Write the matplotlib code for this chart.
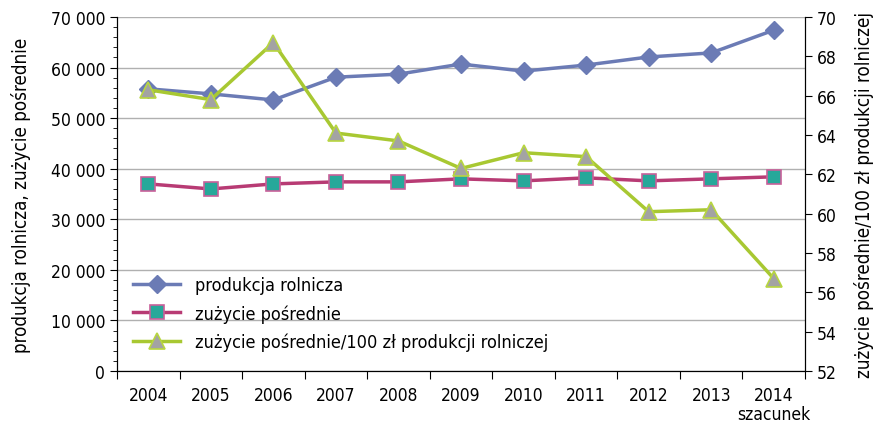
import matplotlib.pyplot as plt
from matplotlib.ticker import FuncFormatter, MultipleLocator

plt.rcParams['font.family'] = ['DejaVu Sans']
plt.rcParams['font.stretch'] = 'condensed'
plt.rcParams['font.size'] = 12

years = ['2004', '2005', '2006', '2007', '2008', '2009', '2010', '2011', '2012', '2013', '2014']
produkcja = [55800, 54800, 53600, 58100, 58700, 60700, 59300, 60500, 62100, 62900, 67400]
zuzycie = [37000, 36000, 37000, 37400, 37400, 38000, 37600, 38200, 37600, 38000, 38400]
wskaznik = [66.3, 65.8, 68.7, 64.1, 63.7, 62.3, 63.1, 62.9, 60.1, 60.2, 56.7]

fig = plt.figure(figsize=(8.83, 4.27), dpi=100)
ax = fig.add_axes([0.1325, 0.1288, 0.7792, 0.829])
ax2 = ax.twinx()

x = range(len(years))
l1, = ax.plot(x, produkcja, color='#6b7bb5', lw=2.5, marker='D', ms=9,
              mfc='#6b7bb5', mec='#6b7bb5', label='produkcja rolnicza', zorder=3)
l2, = ax.plot(x, zuzycie, color='#b83b74', lw=2.5, marker='s', ms=10,
              mfc='#27a89a', mec='#c8609a', mew=1.2, label='zużycie pośrednie', zorder=3)
l3, = ax2.plot(x, wskaznik, color='#a8c832', lw=2.5, marker='^', ms=12,
               mfc='#a3a3a3', mec='#b8d640', mew=1.2,
               label='zużycie pośrednie/100 zł produkcji rolniczej', zorder=3)

ax.set_xlim(-0.5, len(years) - 0.5)
ax.set_ylim(0, 70000)
ax2.set_ylim(52, 70)

ax.yaxis.set_major_locator(MultipleLocator(10000))
ax.yaxis.set_minor_locator(MultipleLocator(2000))
ax.yaxis.set_major_formatter(FuncFormatter(lambda v, p: f'{int(v):,}'.replace(',', ' ')))
ax2.yaxis.set_major_locator(MultipleLocator(2))

ax.set_xticks([i - 0.5 for i in range(len(years) + 1)])
ax.set_xticklabels([])
ax.set_xticks(list(x), minor=True)
ax.set_xticklabels(years, minor=True)
ax.tick_params(axis='x', which='minor', length=0, pad=11, labelsize=12.5)
ax.tick_params(axis='x', which='major', length=6, direction='out')
ax.tick_params(axis='y', which='major', length=5, labelsize=12.5)
ax.tick_params(axis='y', which='minor', length=3)
ax2.tick_params(axis='y', length=5, labelsize=12.5)

ax.grid(axis='y', which='major', color='#b0b0b0', lw=1)
ax.set_axisbelow(True)
for a in (ax, ax2):
    a.spines['top'].set_visible(False)

ax.set_ylabel('produkcja rolnicza, zużycie pośrednie', fontsize=13.5, labelpad=14)
ax2.set_ylabel('zużycie pośrednie/100 zł produkcji rolniczej', fontsize=13.5, labelpad=12)

ax.text(len(years) - 1, -0.095, 'szacunek', transform=ax.get_xaxis_transform(),
        ha='center', va='top', fontsize=12.5)

ax.legend(handles=[l1, l2, l3], loc='lower left', bbox_to_anchor=(0.0, 0.01),
          frameon=False, fontsize=13, handlelength=2.6, labelspacing=0.55)

fig.savefig('out.png', dpi=100)
